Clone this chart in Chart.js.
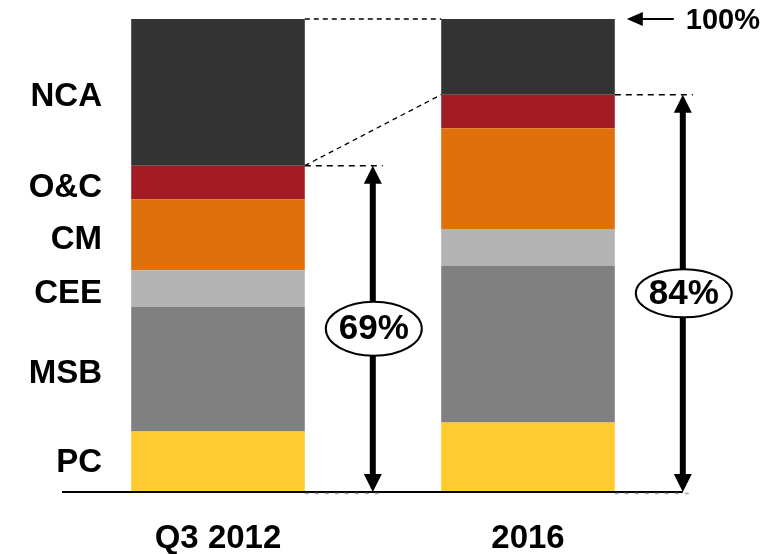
<!DOCTYPE html>
<html>
<head>
<meta charset="utf-8">
<title>Portfolio mix</title>
<script src="https://cdn.jsdelivr.net/npm/chart.js@4.4.1/dist/chart.umd.min.js"></script>
<style>
    html, body { margin: 0; padding: 0; background: #fff; }
    #wrap { width: 778px; height: 554px; }
</style>
</head>
<body>
<div id="wrap"><canvas id="myChart" width="778" height="554"></canvas></div>
<script>
// Share of total (%), bottom segment first
const periods = ['Q3 2012', '2016'];
const segments = ['PC', 'MSB', 'CEE', 'CM', 'O&C', 'NCA'];
const pcShare = [12.8, 14.7];
const msbShare = [26.3, 33.1];
const ceeShare = [7.8, 7.8];
const cmShare = [15.0, 21.3];
const ocShare = [7.1, 7.1];
const ncaShare = [31.0, 16.0];
const segmentColors = ['#FFCB31', '#808080', '#B3B3B3', '#E0700B', '#A31C24', '#333333'];

const FONT = "Arial, 'Liberation Sans', sans-serif";
Chart.defaults.font.family = FONT;

const shares = [pcShare, msbShare, ceeShare, cmShare, ocShare, ncaShare];

// everything except NCA, per period
const coreTotals = periods.map((p, i) =>
    shares.slice(0, 5).reduce((s, arr) => s + arr[i], 0));

function dashed(ctx, x1, y1, x2, y2, dash, color, width) {
    ctx.save();
    ctx.setLineDash(dash);
    ctx.strokeStyle = color;
    ctx.lineWidth = width;
    ctx.beginPath();
    ctx.moveTo(x1, y1);
    ctx.lineTo(x2, y2);
    ctx.stroke();
    ctx.restore();
}

function doubleArrow(ctx, x, yTop, yBottom) {
    const head = 18, half = 9;
    ctx.save();
    ctx.fillStyle = '#000';
    ctx.fillRect(x - 3, yTop + head - 1, 6, yBottom - yTop - 2 * head + 2);
    ctx.beginPath();
    ctx.moveTo(x, yTop);
    ctx.lineTo(x + half, yTop + head);
    ctx.lineTo(x - half, yTop + head);
    ctx.closePath();
    ctx.fill();
    ctx.beginPath();
    ctx.moveTo(x, yBottom);
    ctx.lineTo(x + half, yBottom - head);
    ctx.lineTo(x - half, yBottom - head);
    ctx.closePath();
    ctx.fill();
    ctx.restore();
}

const annotations = {
    id: 'annotations',
    afterDatasetsDraw(chart) {
        const ctx = chart.ctx;
        const x = chart.scales.x;
        const y = chart.scales.y;
        const bars = chart.getDatasetMeta(0).data;
        const y0 = y.getPixelForValue(0);
        const y100 = y.getPixelForValue(100);
        const rights = bars.map(b => b.x + b.width / 2);
        const lefts = bars.map(b => b.x - b.width / 2);
        const yCore = coreTotals.map(v => y.getPixelForValue(v));
        const arrowX = rights.map(r => r + 68);

        // baseline
        ctx.save();
        ctx.fillStyle = '#000';
        ctx.fillRect(chart.chartArea.left - 1, y0 - 1, arrowX[1] - chart.chartArea.left + 1, 2);
        ctx.restore();

        // connectors between the bars
        dashed(ctx, rights[0], y100, lefts[1], y100, [5, 4], '#000', 1.3);
        dashed(ctx, rights[0], yCore[0], lefts[1], yCore[1], [5, 4], '#000', 1.3);

        periods.forEach((p, i) => {
            dashed(ctx, rights[i], yCore[i], arrowX[i] + 10, yCore[i], [6, 5], '#000', 1.5);
            dashed(ctx, rights[i], y0 + 1.5, arrowX[i] + 9, y0 + 1.5, [4, 6], '#aaaaaa', 1.5);
            doubleArrow(ctx, arrowX[i], yCore[i], y0);

            const cy = (yCore[i] + y0) / 2;
            ctx.save();
            ctx.beginPath();
            ctx.ellipse(arrowX[i] + 1, cy, 48, i === 0 ? 27 : 24, 0, 0, Math.PI * 2);
            ctx.fillStyle = '#fff';
            ctx.fill();
            ctx.lineWidth = 2;
            ctx.strokeStyle = '#000';
            ctx.stroke();
            ctx.fillStyle = '#000';
            ctx.font = 'bold 35px ' + FONT;
            ctx.textAlign = 'center';
            ctx.textBaseline = 'middle';
            ctx.fillText(Math.round(coreTotals[i]) + '%', arrowX[i] + 1, cy + 1);
            ctx.restore();

            // period labels under the bars
            ctx.save();
            ctx.fillStyle = '#000';
            ctx.font = 'bold 33px ' + FONT;
            ctx.textAlign = 'center';
            ctx.textBaseline = 'middle';
            ctx.fillText(p, x.getPixelForValue(i), y0 + 47);
            ctx.restore();
        });

        // "100%" marker
        ctx.save();
        ctx.fillStyle = '#000';
        ctx.fillRect(rights[1] + 26, y100 - 1, 33, 2);
        ctx.beginPath();
        ctx.moveTo(rights[1] + 12, y100);
        ctx.lineTo(rights[1] + 28, y100 - 7);
        ctx.lineTo(rights[1] + 28, y100 + 7);
        ctx.closePath();
        ctx.fill();
        ctx.font = 'bold 29px ' + FONT;
        ctx.textAlign = 'left';
        ctx.textBaseline = 'middle';
        ctx.fillText('100%', rights[1] + 71, y100 + 2);
        ctx.restore();

        // segment names beside the first bar
        ctx.save();
        ctx.fillStyle = '#000';
        ctx.font = 'bold 33px ' + FONT;
        ctx.textAlign = 'right';
        ctx.textBaseline = 'middle';
        let base = 0;
        segments.forEach((name, k) => {
            const v = shares[k][0];
            const cy = y.getPixelForValue(base + v / 2);
            ctx.fillText(name, 102, cy + (k === 0 ? 1 : 5));
            base += v;
        });
        ctx.restore();
    }
};

const ctx = document.getElementById('myChart').getContext('2d');
const myChart = new Chart(ctx, {
    type: 'bar',
    data: {
        labels: periods,
        datasets: segments.map((name, k) => ({
            label: name,
            data: shares[k],
            backgroundColor: segmentColors[k],
            borderWidth: 0,
            barPercentage: 1,
            categoryPercentage: 0.56,
        }))
    },
    options: {
        responsive: false,
        animation: false,
        layout: {
            padding: { top: 19, left: 63, right: 95, bottom: 62 }
        },
        plugins: {
            legend: { display: false },
            tooltip: { enabled: false },
        },
        scales: {
            x: {
                stacked: true,
                display: false,
            },
            y: {
                stacked: true,
                display: false,
                min: 0,
                max: 100,
            },
        },
    },
    plugins: [annotations]
});
</script>
</body>
</html>
